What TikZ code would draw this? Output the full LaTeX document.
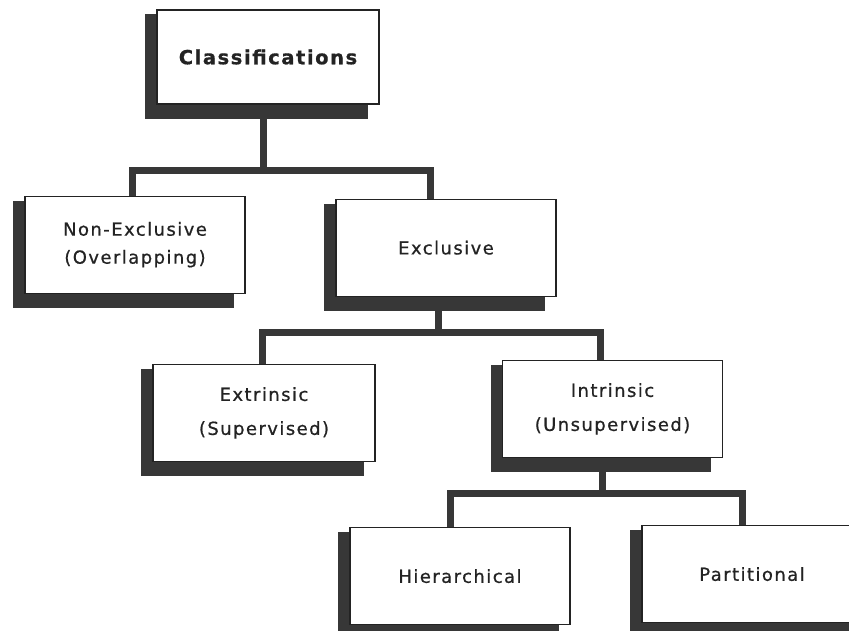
\documentclass[tikz,border=0pt]{standalone}
\usepackage{fontspec}
\usepackage{tikz}
\usetikzlibrary{positioning}
\newfontfamily\boxfont{DejaVu Sans}[LetterSpace=8, FakeBold=0.7]
\definecolor{myink}{RGB}{35,35,35}
\definecolor{myshade}{RGB}{55,55,55}
\pgfdeclarelayer{background}
\pgfsetlayers{background,main}
\tikzset{
  block/.style={rectangle, draw=myink, fill=white, line width=1.2pt,
    minimum width=220pt, minimum height=97pt, align=center, text=myink,
    font=\boxfont\fontsize{18}{28}\selectfont, inner sep=0pt},
  rootblock/.style={block, minimum width=222pt, minimum height=94pt,
    font=\boxfont\bfseries\fontsize{19.5}{28}\selectfont},
  boxshadow/.style={fill=myshade},
  link/.style={line width=7pt, color=myshade}
}

\begin{document}
\begin{tikzpicture}[x=1pt, y=1pt]
  \useasboundingbox (0,0) rectangle (849,-631);
  \clip (0,0) rectangle (849,-631);
  % Root
  \node[rootblock] (cls) at (268,-57) {Classifications};
  % First level
  \node[block, below=91pt of cls, xshift=-133pt] (nonex) {Non-Exclusive\\(Overlapping)};
  \node[block, below=94pt of cls, xshift=178pt] (exc) {Exclusive};
  % Second level
  \node[block, below=67pt of exc, xshift=-182pt, minimum width=222pt] (ext) {Extrinsic\\[6pt](Supervised)};
  \node[block, below=63pt of exc, xshift=166.5pt] (intr) {Intrinsic\\[6pt](Unsupervised)};
  % Third level
  \node[block, below=69pt of intr, xshift=-152.5pt] (hier) {Hierarchical};
  \node[block, below=67pt of intr, xshift=139.5pt] (part) {Partitional};

  % Drop shadows
  \begin{pgfonlayer}{background}
    \foreach \n in {cls,nonex,exc,ext,intr,hier,part}
      \fill[boxshadow] ([shift={(-11pt,-14pt)}]\n.south west) rectangle ([shift={(-12pt,-5pt)}]\n.north east);
  \end{pgfonlayer}

  % Tree links
  \coordinate (j1) at ([xshift=-5pt, yshift=-66pt]cls.south);
  \draw[link] ([xshift=-5pt]cls.south) -- (j1);
  \draw[link] ([xshift=-3pt]nonex.north) |- (j1) -| ([xshift=-16pt]exc.north);
  \coordinate (j2) at ([xshift=-8pt, yshift=-36pt]exc.south);
  \draw[link] ([xshift=-8pt]exc.south) -- (j2);
  \draw[link] ([xshift=-2pt]ext.north) |- (j2) -| ([xshift=-12.5pt]intr.north);
  \coordinate (j3) at ([xshift=-10.5pt, yshift=-35pt]intr.south);
  \draw[link] ([xshift=-10.5pt]intr.south) -- (j3);
  \draw[link] ([xshift=-10pt]hier.north) |- (j3) -| ([xshift=-10pt]part.north);
\end{tikzpicture}
\end{document}
